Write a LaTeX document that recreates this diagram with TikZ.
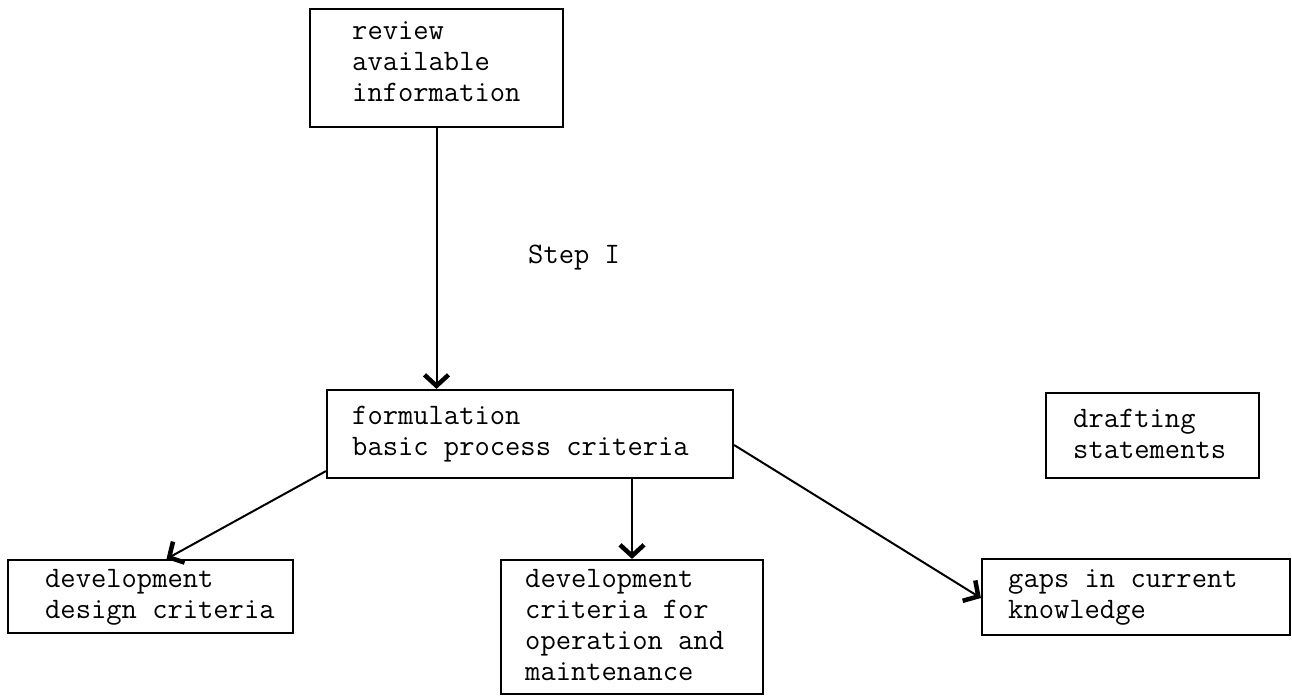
\documentclass[tikz,border=0pt]{standalone}
\usepackage{fontspec}
\usetikzlibrary{arrows.meta}
\begin{document}
\begin{tikzpicture}[x=1pt,y=-1pt,
  boxs/.style={draw, line width=2.2pt, rectangle, inner sep=0pt},
  txt/.style={anchor=base west, inner sep=0pt, align=left,
    font=\ttfamily\fontsize{29.7}{31}\selectfont},
  arr/.style={line width=2pt, -{Straight Barb[length=11pt,width=24pt,line width=4.5pt]}}]
\useasboundingbox (0,0) rectangle (1292,696);
% boxes
\node[boxs, minimum width=253pt, minimum height=118pt] (review) at (436.5,68) {};
\node[boxs, minimum width=406pt, minimum height=88pt] (form) at (530,434) {};
\node[boxs, minimum width=213pt, minimum height=85pt] (draft) at (1152.5,435.5) {};
\node[boxs, minimum width=285pt, minimum height=73pt] (dd) at (150.5,596.5) {};
\node[boxs, minimum width=262pt, minimum height=134pt] (om) at (632,627) {};
\node[boxs, minimum width=308pt, minimum height=76pt] (gaps) at (1136,597) {};
% texts (anchor = baseline of last line)
\node[txt] (reviewtxt) at (352,101) {review\\available\\information};
\node[txt] (formtxt) at (352,455) {formulation\\basic process criteria};
\node[txt] (drafttxt) at (1073,458) {drafting\\statements};
\node[txt] (ddtxt) at (45,618) {development\\design criteria};
\node[txt] (omtxt) at (525,680) {development\\criteria for\\operation and\\maintenance};
\node[txt] (gapstxt) at (1008,618) {gaps in current\\knowledge};
\node[txt] (step) at (528,263) {Step I};
% connectors
\draw[arr] (review.south) -- (review.south |- form.north);
\draw[arr] ([yshift=8pt]form.south west) -- ([xshift=16pt]dd.north);
\draw[arr] (om.north |- form.south) -- (om.north);
\draw[arr] ([yshift=-11pt]form.east) -- ([yshift=-1pt]gaps.west);
\end{tikzpicture}
\end{document}
